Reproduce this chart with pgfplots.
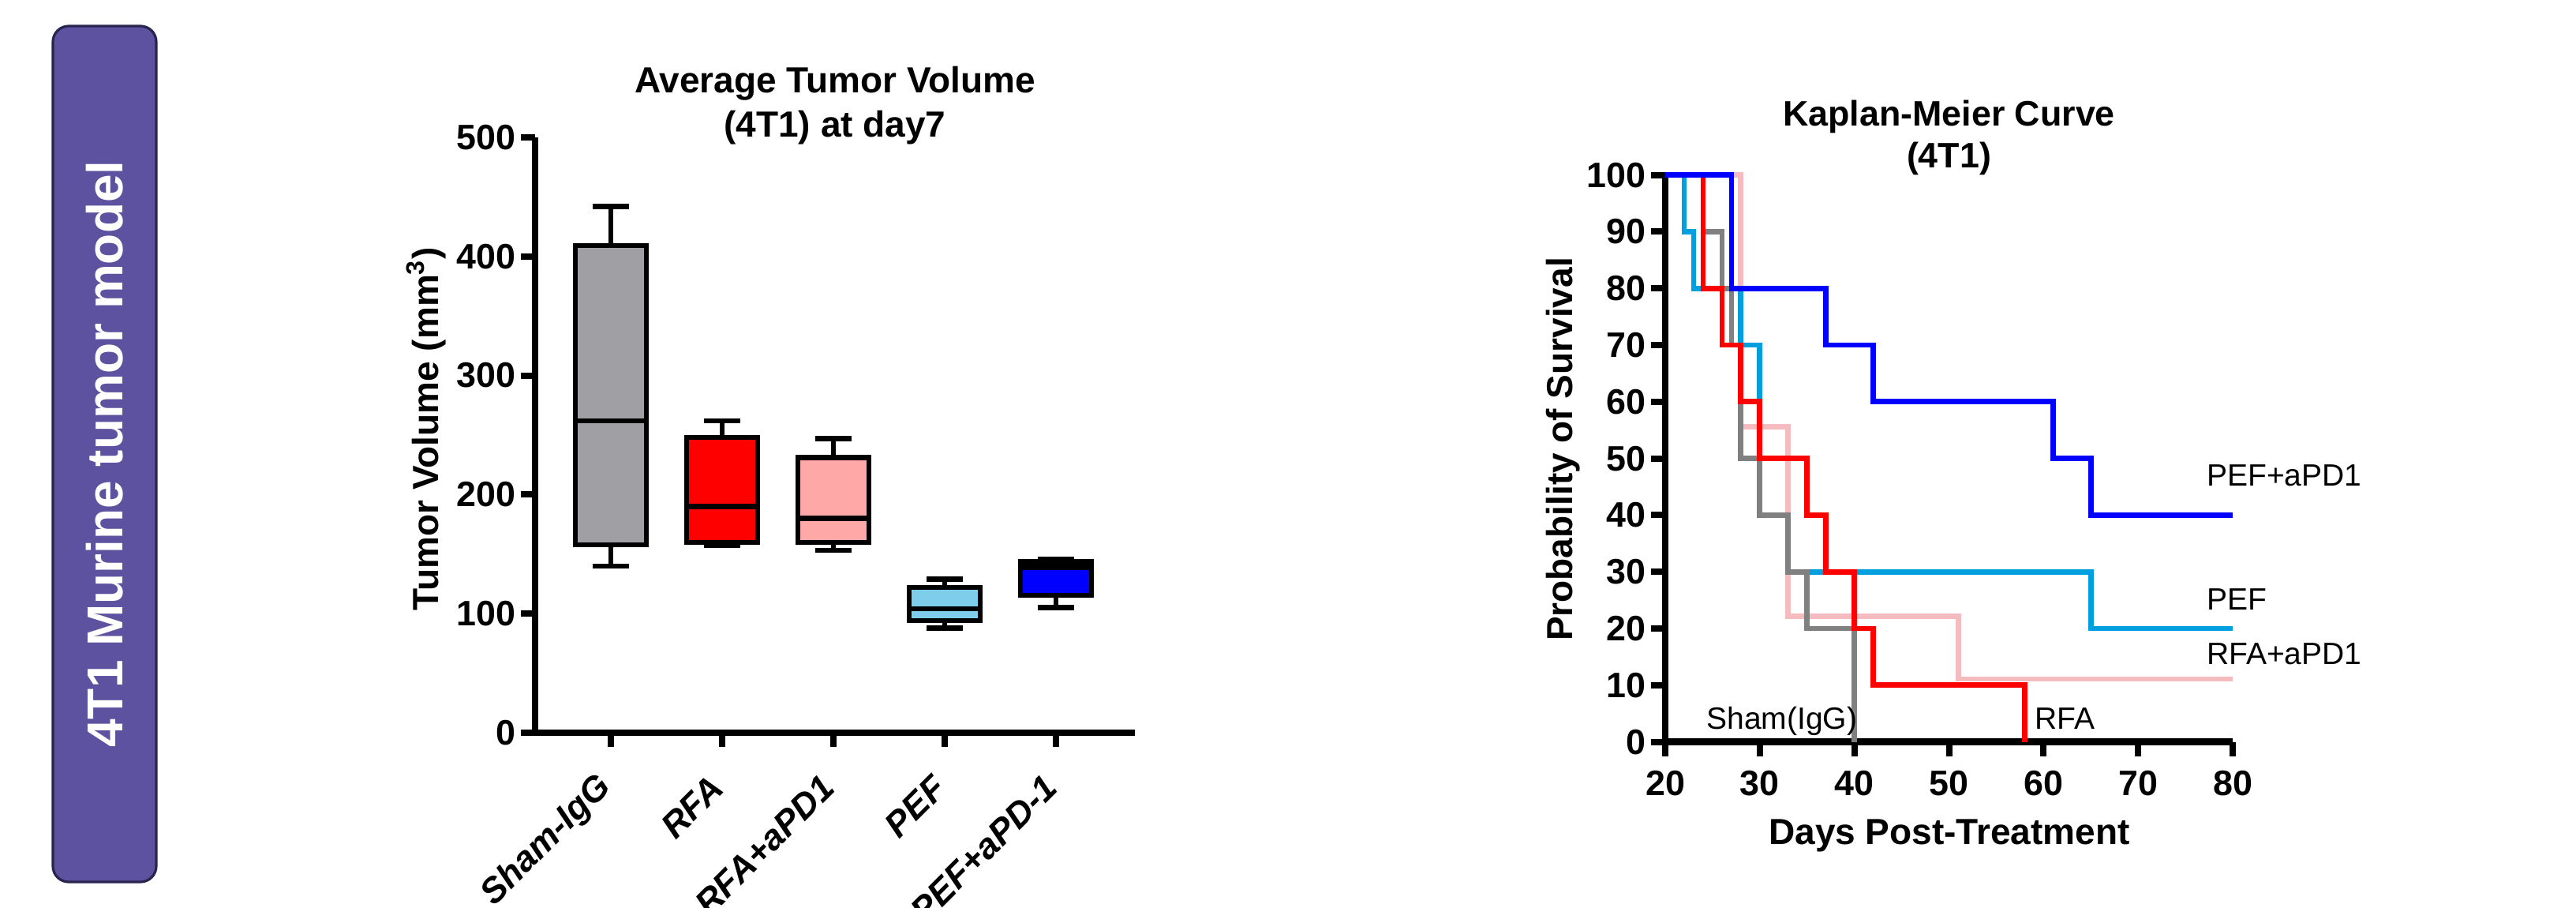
\documentclass[border=0pt]{standalone}
\usepackage{fontspec}
\setmainfont{Liberation Sans}
\usepackage{pgfplots}
\pgfplotsset{compat=1.18}
\usepgfplotslibrary{statistics}

\definecolor{panel}{RGB}{92,82,160}
\definecolor{paneledge}{RGB}{40,36,80}
\definecolor{shamfill}{RGB}{160,159,164}
\definecolor{rfapdfill}{RGB}{255,168,168}
\definecolor{peffill}{RGB}{126,206,235}
\definecolor{kmcyan}{RGB}{0,160,223}
\definecolor{kmpink}{RGB}{245,188,192}
\definecolor{kmgrey}{RGB}{128,128,128}

\pgfplotsset{
  gp/.style={
    scale only axis,
    axis x line*=bottom, axis y line*=left,
    axis line style={line width=2.2pt},
    tick style={line width=2pt, black},
    major tick length=4.5pt,
    tick align=outside,
    tick label style={font=\bfseries\fontsize{11.2}{13}\selectfont},
    /pgf/number format/assume math mode=true,
    label style={font=\bfseries\fontsize{11.5}{13.5}\selectfont},
    clip=false,
  },
  bx/.style={draw=black, line width=1.6pt, fill=#1},
}

\begin{document}
\begin{tikzpicture}
\useasboundingbox (0,0) rectangle (816pt,287.25pt);

% side panel
\draw[paneledge, line width=0.8pt, fill=panel, rounded corners=5pt] (16.75pt,8pt) rectangle (49.5pt,279pt);
\node[rotate=90, text=white, font=\bfseries\fontsize{16}{19}\selectfont] at (33.25pt,143.5pt) {4T1 Murine tumor model};

% tumour volume, box plots
\begin{axis}[gp,
  at={(169.5pt,55.25pt)}, anchor=south west,
  width=190pt, height=188.5pt,
  xmin=0.319, xmax=5.709, ymin=0, ymax=500,
  xtick={1,2,3,4,5},
  xticklabels={Sham-IgG,RFA,RFA+aPD1,PEF,PEF+aPD-1},
  ytick={0,100,...,500},
  xticklabel style={xshift=-1.5pt, rotate=45, anchor=east, inner sep=0pt,
    font=\bfseries\itshape\fontsize{11.2}{13}\selectfont},
  xticklabel shift=11pt,
  yticklabel style={inner sep=0pt, anchor=east},
  yticklabel shift=1.5pt,
  ylabel={Tumor Volume (mm\textsuperscript{3})},
  ylabel style={at={(rel axis cs:-0.1618,0.5106)}, anchor=base},
  boxplot/draw direction=y,
  boxplot/box extend=0.64,
  boxplot/whisker extend=0.33,
]
\addplot[bx=shamfill, boxplot prepared={draw position=1,
  lower whisker=140, lower quartile=158, median=262, upper quartile=409, upper whisker=442}] coordinates {};
\addplot[bx=red, boxplot prepared={draw position=2,
  lower whisker=157, lower quartile=160, median=190, upper quartile=248, upper whisker=262}] coordinates {};
\addplot[bx=rfapdfill, boxplot prepared={draw position=3,
  lower whisker=153, lower quartile=160, median=180, upper quartile=231, upper whisker=247}] coordinates {};
\addplot[bx=peffill, boxplot prepared={draw position=4,
  lower whisker=88, lower quartile=94, median=104, upper quartile=122, upper whisker=129}] coordinates {};
\addplot[bx=blue, boxplot prepared={draw position=5,
  lower whisker=105, lower quartile=115.5, median=139, upper quartile=143.5, upper whisker=146}] coordinates {};

\node[anchor=base, font=\bfseries\fontsize{11.5}{13.5}\selectfont] at (rel axis cs:0.5,1.0743) {Average Tumor Volume};
\node[anchor=base, font=\bfseries\fontsize{11.5}{13.5}\selectfont] at (rel axis cs:0.5,1.0013) {(4T1) at day7};
\end{axis}

% Kaplan-Meier
\begin{axis}[gp,
  at={(527.5pt,52.35pt)}, anchor=south west,
  width=179.75pt, height=179.5pt,
  xmin=20, xmax=80, ymin=0, ymax=100,
  xtick={20,30,...,80}, ytick={0,10,...,100},
  xticklabel style={inner sep=0pt, anchor=north},
  xticklabel shift=4.5pt,
  yticklabel style={inner sep=0pt, anchor=east},
  yticklabel shift=1.5pt,
  xlabel={Days Post-Treatment},
  xlabel style={at={(rel axis cs:0.5007,-0.1816)}, anchor=base},
  ylabel={Probability of Survival},
  ylabel style={at={(rel axis cs:-0.1641,0.5162)}, anchor=base},
]
\addplot[kmpink, const plot, line width=1.7pt] coordinates {
  (20,100) (28,55.6) (33,22.2) (51,11.1) (80,11.1)};
\addplot[kmcyan, const plot, line width=1.7pt] coordinates {
  (20,100) (22,90) (23,80) (28,70) (30,40) (33,30) (65,20) (80,20)};
\addplot[kmgrey, const plot, line width=1.7pt] coordinates {
  (20,100) (24,90) (26,80) (27,70) (28,50) (30,40) (33,30) (35,20) (40,0)};
\addplot[red, const plot, line width=1.7pt] coordinates {
  (20,100) (24,80) (26,70) (28,60) (30,50) (35,40) (37,30) (40,20) (42,10) (58,0)};
\addplot[blue, const plot, line width=1.7pt] coordinates {
  (20,100) (27,80) (37,70) (42,60) (61,50) (65,40) (80,40)};

\node[anchor=base, font=\bfseries\fontsize{11.2}{13}\selectfont] at (rel axis cs:0.5,1.086) {Kaplan-Meier Curve};
\node[anchor=base, font=\bfseries\fontsize{11.2}{13}\selectfont] at (rel axis cs:0.5,1.012) {(4T1)};

\node[anchor=base west, inner sep=0pt, font=\fontsize{9.75}{11}\selectfont] at (axis cs:77.2,45.2) {PEF+aPD1};
\node[anchor=base west, inner sep=0pt, font=\fontsize{9.75}{11}\selectfont] at (axis cs:77.2,23.3) {PEF};
\node[anchor=base west, inner sep=0pt, font=\fontsize{9.75}{11}\selectfont] at (axis cs:77.2,13.6) {RFA+aPD1};
\node[anchor=base west, inner sep=0pt, font=\fontsize{9.75}{11}\selectfont] at (axis cs:24.3,2.2) {Sham(IgG)};
\node[anchor=base west, inner sep=0pt, font=\fontsize{9.75}{11}\selectfont] at (axis cs:59.0,2.2) {RFA};
\end{axis}
\end{tikzpicture}
\end{document}
